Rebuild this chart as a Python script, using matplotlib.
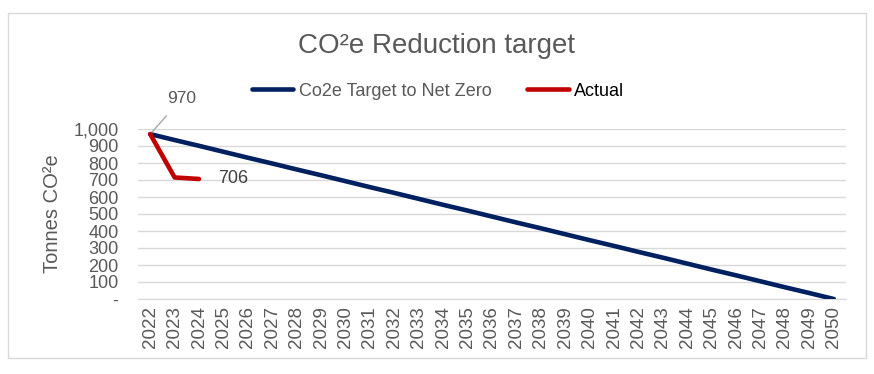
import matplotlib
matplotlib.use("Agg")
import matplotlib.pyplot as plt
from matplotlib.patches import Rectangle

plt.rcParams["font.family"] = ["Liberation Sans", "DejaVu Sans"]

# data
years = [str(y) for y in range(2022, 2051)]
target = [970, 935, 901, 866, 831, 797, 762, 728, 693, 658, 624, 589, 554, 520,
          485, 450, 416, 381, 346, 312, 277, 243, 208, 173, 139, 104, 69, 35, 0]
actual_years = ["2022", "2023", "2024"]
actual = [970, 715, 706]
y_ticks = [0, 100, 200, 300, 400, 500, 600, 700, 800, 900, 1000]

grey = "#595959"
navy = "#002060"
red = "#C00000"

fig = plt.figure(figsize=(8.74, 3.74), dpi=100)
ax = fig.add_axes([138 / 874, 1 - 299 / 374, (846 - 138) / 874, (299 - 129) / 374])

x = list(range(len(years)))
ax.plot(x, target, color=navy, lw=3.3, solid_capstyle="round",
        label="Co2e Target to Net Zero", zorder=3)
ax.plot(x[:len(actual)], actual, color=red, lw=3.3, solid_capstyle="round",
        label="Actual", zorder=4)

ax.set_xlim(-0.5, len(years) - 0.5)
ax.set_ylim(0, 1000)
ax.set_xticks(x)
ax.set_xticklabels(years, rotation=90, fontsize=13.5, color=grey)
ax.set_yticks(y_ticks)
ax.set_yticklabels(["-" if v == 0 else f"{v:,}" for v in y_ticks],
                   fontsize=13, color=grey)
ax.tick_params(axis="x", length=0, pad=5)
ax.tick_params(axis="y", length=0, pad=14)
ax.grid(axis="y", color="#D9D9D9", lw=1)
ax.set_axisbelow(True)
for s in ["top", "right", "left"]:
    ax.spines[s].set_visible(False)
ax.spines["bottom"].set_color("#D9D9D9")
ax.set_ylabel("Tonnes CO²e", fontsize=14.5, color=grey, labelpad=8)

# data labels
ax.annotate("970", xy=(0, actual[0]), xytext=(1.3, 1180), fontsize=12.5,
            color=grey, ha="center", va="center", annotation_clip=False,
            arrowprops=dict(arrowstyle="-", color="#A6A6A6", lw=1,
                            shrinkA=7, shrinkB=0))
ax.text(2.8, actual[2], "706", fontsize=13, color="#404040", va="center")

fig.text(0.5, 1 - 46 / 374, "CO²e Reduction target", ha="center", va="center",
         fontsize=20, color=grey)
fig.legend(loc="center", bbox_to_anchor=(438 / 874, 1 - 91 / 374), ncol=2,
           frameon=False, fontsize=13, handlelength=2.3, columnspacing=2.0,
           handletextpad=0.3, labelcolor=[grey, "black"])

fig.patches.append(Rectangle((8 / 874, 1 - 358 / 374), 858 / 874, 345 / 374,
                             transform=fig.transFigure, fill=False,
                             edgecolor="#D9D9D9", lw=1))

fig.savefig("out.png", dpi=100)
